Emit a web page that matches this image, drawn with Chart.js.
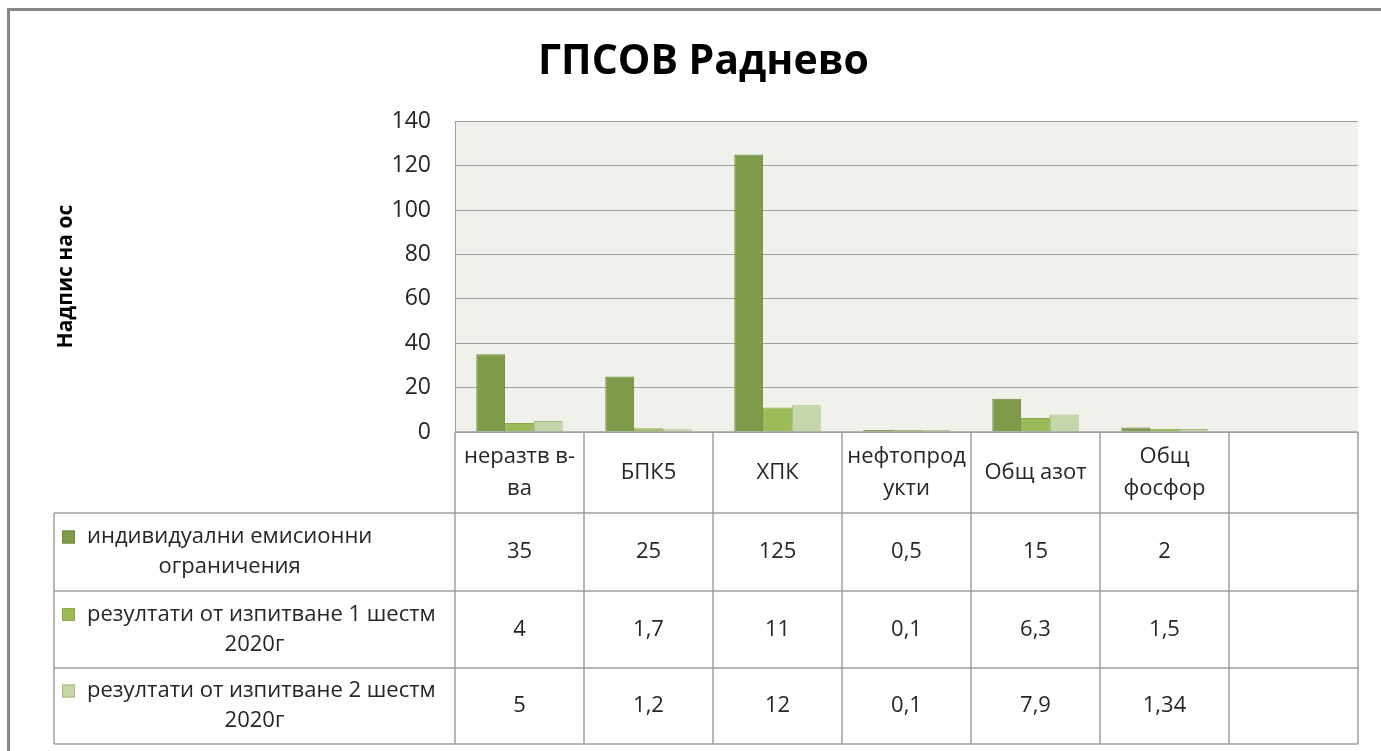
<!DOCTYPE html>
<html>
<head>
<meta charset="utf-8">
<script src="https://cdn.jsdelivr.net/npm/chart.js@4"></script>
<style>
  html, body { margin: 0; padding: 0; background: #fff; }
  #wrap { width: 1381px; height: 751px; }
</style>
</head>
<body>
<div id="wrap"><canvas id="c" width="1381" height="751"></canvas></div>
<script>
// categories as they wrap in the data table
const categories = [['неразтв в-', 'ва'], ['БПК5'], ['ХПК'], ['нефтопрод', 'укти'], ['Общ азот'], ['Общ', 'фосфор'], ['']];
const seriesNames = [
    ['индивидуални емисионни', 'ограничения'],
    ['резултати от изпитване 1 шестм', '2020г'],
    ['резултати от изпитване 2 шестм', '2020г']
];
const limits = [35, 25, 125, 0.5, 15, 2, null];
const test1 = [4, 1.7, 11, 0.1, 6.3, 1.5, null];
const test2 = [5, 1.2, 12, 0.1, 7.9, 1.34, null];
const yMin = 0, yMax = 140, yStep = 20;

const fills = ['#7F9A48', '#9BBB59', '#C6D6AB'];
const borders = ['#6E8A3C', '#89A84C', '#A2BB78'];
const FONT = '"Open Sans", "Noto Sans", sans-serif';

// plot background
const plotBg = {
    id: 'plotBg',
    beforeDraw(chart) {
        const { ctx, chartArea: a } = chart;
        ctx.save();
        ctx.fillStyle = '#EFF2EA';
        ctx.fillRect(a.left, a.top, a.right - a.left, a.bottom - a.top);
        ctx.restore();
    }
};

// data table under the plot + outer frame
const dataTable = {
    id: 'dataTable',
    afterDraw(chart) {
        const { ctx, chartArea: a } = chart;
        const x = chart.scales.x;
        const rows = [a.bottom, 513, 591, 668, 744];
        const tableLeft = 54;
        const n = categories.length;
        const bounds = [a.left];
        for (let i = 0; i < n - 1; i++) {
            bounds.push((x.getPixelForValue(i) + x.getPixelForValue(i + 1)) / 2);
        }
        bounds.push(a.right);

        ctx.save();
        ctx.strokeStyle = '#A0A0A0';
        ctx.lineWidth = 1.5;
        ctx.beginPath();
        // horizontal lines
        ctx.moveTo(a.left, rows[0]); ctx.lineTo(a.right, rows[0]);
        for (let r = 1; r < rows.length; r++) {
            ctx.moveTo(tableLeft, rows[r]); ctx.lineTo(a.right, rows[r]);
        }
        // vertical lines
        bounds.forEach(bx => { ctx.moveTo(bx, rows[0]); ctx.lineTo(bx, rows[4]); });
        ctx.moveTo(tableLeft, rows[1]); ctx.lineTo(tableLeft, rows[4]);
        ctx.stroke();

        ctx.fillStyle = '#262626';
        ctx.textAlign = 'center';
        ctx.textBaseline = 'middle';
        ctx.font = '22px ' + FONT;
        const lh = 32;

        // category header
        const hc = (rows[0] + rows[1]) / 2;
        categories.forEach((lines, i) => {
            const cx = x.getPixelForValue(i);
            lines.forEach((t, k) => {
                ctx.fillText(t, cx, hc + (k - (lines.length - 1) / 2) * lh);
            });
        });

        // series rows
        const series = [limits, test1, test2];
        series.forEach((vals, s) => {
            const rc = (rows[s + 1] + rows[s + 2]) / 2;
            vals.forEach((v, i) => {
                if (v === null) return;
                ctx.fillText(String(v).replace('.', ','), x.getPixelForValue(i), rc);
            });
            // legend cell: key + first line left aligned, rest centred
            const cellC = (tableLeft + a.left) / 2;
            const lines = seriesNames[s];
            const key = 13, kx = 62, tx = 87;
            const firstW = ctx.measureText(lines[0]).width;
            const restC = Math.min(cellC, tx + firstW / 2);
            lines.forEach((t, k) => {
                const ly = rc + (k - (lines.length - 1) / 2) * 30;
                if (k === 0) {
                    ctx.fillStyle = fills[s];
                    ctx.fillRect(kx, ly - key / 2, key, key);
                    ctx.strokeStyle = borders[s];
                    ctx.lineWidth = 1;
                    ctx.strokeRect(kx + 0.5, ly - key / 2 + 0.5, key - 1, key - 1);
                    ctx.fillStyle = '#262626';
                    ctx.textAlign = 'left';
                    ctx.fillText(t, tx, ly);
                    ctx.textAlign = 'center';
                } else {
                    ctx.fillText(t, restC, ly);
                }
            });
        });

        // outer chart frame
        ctx.strokeStyle = '#868686';
        ctx.lineWidth = 3;
        ctx.strokeRect(8.5, 9.5, 1500, 900);
        ctx.restore();
    }
};

new Chart(document.getElementById('c'), {
    type: 'bar',
    data: {
        labels: categories,
        datasets: [limits, test1, test2].map((d, i) => ({
            label: seriesNames[i].join(' '),
            data: d,
            backgroundColor: fills[i],
            borderColor: borders[i],
            borderWidth: 1,
            minBarLength: 2,
            categoryPercentage: 0.67,
            barPercentage: 1
        }))
    },
    options: {
        responsive: false,
        animation: false,
        layout: { padding: { left: 49, right: 23, top: 0, bottom: 319 } },
        plugins: {
            legend: { display: false },
            tooltip: { enabled: false },
            title: {
                display: true,
                text: 'ГПСОВ Раднево',
                color: '#000',
                font: { family: FONT, size: 41, weight: 'bold' },
                padding: { top: 38, bottom: 34 }
            }
        },
        scales: {
            x: { display: false },
            y: {
                min: yMin,
                max: yMax,
                afterFit(axis) { axis.width = 406; },
                ticks: {
                    stepSize: yStep,
                    color: '#262626',
                    padding: 24,
                    font: { family: FONT, size: 23 }
                },
                grid: { color: '#A0A0A0', lineWidth: 1, drawTicks: false },
                border: { display: true, color: '#A0A0A0', width: 1 },
                title: {
                    display: true,
                    text: 'Надпис на ос',
                    color: '#000',
                    font: { family: FONT, size: 21, weight: 'bold' }
                }
            }
        }
    },
    plugins: [plotBg, dataTable]
});
</script>
</body>
</html>
